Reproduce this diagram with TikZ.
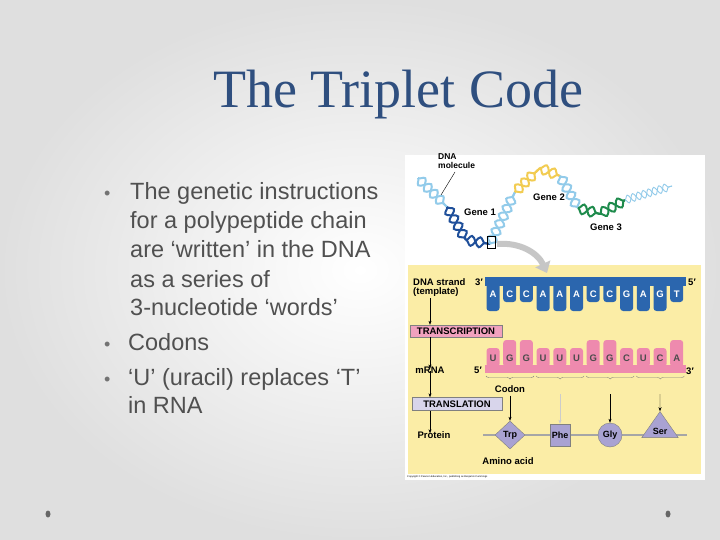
\documentclass[tikz,border=0pt]{standalone}
\usepackage{fontspec}
\setmainfont{Liberation Serif}
\newfontfamily\arialf{Liberation Sans}
\usetikzlibrary{shapes.geometric,decorations.pathmorphing,decorations.pathreplacing,arrows.meta}
\definecolor{titleblue}{HTML}{2F4F7F}
\definecolor{bodygray}{HTML}{505050}
\definecolor{panel}{HTML}{FBEDA6}
\definecolor{dnablue}{HTML}{2B66AE}
\definecolor{dnalight}{HTML}{92CBEA}
\definecolor{dnadark}{HTML}{1F4F9A}
\definecolor{geneyellow}{HTML}{F2CC52}
\definecolor{genegreen}{HTML}{1E8B4C}
\definecolor{rnapink}{HTML}{EE8AAE}
\definecolor{amino}{HTML}{A9A2D2}
\tikzset{
  bul/.style={anchor=base west, font=\arialf\fontsize{23.5}{23.5}\selectfont, text=bodygray, inner sep=0pt},
  dot/.style={anchor=base west, font=\arialf\fontsize{18}{18}\selectfont, text=bodygray!80, inner sep=0pt},
  lbl/.style={font=\arialf\fontsize{9.5}{9.5}\selectfont\bfseries, inner sep=0pt},
  helix/.style={draw=#1, line width=2pt, decorate, decoration={snake, amplitude=5pt, segment length=17pt}},
  helixm/.style={helix=#1, decoration={mirror}},
  aa/.style={fill=amino, draw=gray, font=\arialf\fontsize{9}{9}\selectfont\bfseries, inner sep=1pt},
}
\newcommand\strand[3]{\draw[helix=#1] #2 -- #3; \draw[helixm=#1] #2 -- #3;}
\begin{document}
\begin{tikzpicture}[x=1pt,y=-1pt]
\useasboundingbox (0,0) rectangle (720,540);
\shade[inner color=white, outer color=gray!25] (0,0) rectangle (720,540);
% title and bullets
\node (title) at (398,95) {\fontsize{54}{54}\selectfont\color{titleblue}The Triplet Code};
\node[dot] (d1) at (104,200) {\textbullet};
\node[bul] (b1) at (130,200) {The genetic instructions};
\node[bul] (b1a) at (130,229) {for a polypeptide chain};
\node[bul] (b1b) at (130,258) {are ‘written’ in the DNA};
\node[bul] (b1c) at (130,287) {as a series of};
\node[bul] (b1d) at (130,315) {3-nucleotide ‘words’};
\node[dot] (d2) at (104,350) {\textbullet};
\node[bul] (b2) at (128,350) {Codons};
\node[dot] (d3) at (104,385) {\textbullet};
\node[bul] (b3) at (128,385) {‘U’ (uracil) replaces ‘T’};
\node[bul] (b3a) at (128,413) {in RNA};
% corner dots
\fill[gray!80!black] (48,514) ellipse (2.5 and 3.5);
\fill[gray!80!black] (668,514) ellipse (2.5 and 3.5);
% figure
\fill[white] (405,155) rectangle (705,480);
\fill[panel] (408,265) rectangle (701,474);
\node[font=\arialf\fontsize{2.5}{2.5}\selectfont, anchor=west, inner sep=0pt] (copy) at (407,477) {Copyright \textcopyright\ Pearson Education, Inc., publishing as Benjamin Cummings};
% DNA molecule
\strand{dnalight}{(418,178)}{(447,207)}
\strand{dnadark}{(447,207)}{(466,240)}
\strand{dnadark}{(466,240)}{(490,244)}
\strand{dnalight}{(490,244)}{(515,192)}
\strand{geneyellow}{(515,192)}{(540,168)}
\strand{geneyellow}{(540,168)}{(560,176)}
\strand{dnalight}{(560,176)}{(578,208)}
\strand{genegreen}{(578,208)}{(600,214)}
\strand{genegreen}{(600,214)}{(625,200)}
\draw[helix=dnalight, line width=0.9pt, decoration={amplitude=4pt, segment length=11pt}] (625,200) -- (672,186);
\draw[helixm=dnalight, line width=0.9pt, decoration={amplitude=4pt, segment length=11pt}] (625,200) -- (672,186);
\draw[black, line width=0.5pt] (487,236) rectangle (495,248);
\node[lbl, align=left, anchor=north west, font=\arialf\fontsize{8.5}{9}\selectfont\bfseries] (mol) at (438,153) {DNA\\molecule};
\coordinate (molend) at (441,195);
\draw[thin] (455,172) -- (molend);
\node[lbl] (g1) at (480,212) {Gene 1};
\node[lbl] (g2) at (549,197) {Gene 2};
\node[lbl] (g3) at (606,227) {Gene 3};
\coordinate (zs) at (497,244);
\coordinate (ze) at (547,273);
\draw[gray!45, line width=6pt, -{Triangle[width=16pt,length=10pt]}] (zs) to[bend left=35] (ze);
% DNA template
\node[lbl, align=left, anchor=north west] (tmpl) at (413,278) {DNA strand\\(template)};
\node[lbl] (t3) at (479,282) {3′};
\node[lbl] (t5) at (692,282) {5′};
\foreach \l/\h [count=\i] in {A/1,C/0,C/0,A/1,A/1,A/1,C/0,C/0,G/1,A/1,G/1,T/0}{
  \pgfmathsetmacro\cx{493+16.7*(\i-1)}
  \pgfmathsetmacro\by{\h>0 ? 311 : 302}
  \fill[dnablue, rounded corners=3pt] (\cx-6.5,283) rectangle (\cx+6.5,\by);
  \node[text=white, lbl] (d\i) at (\cx,294) {\l};
}
\fill[dnablue] (485,277) rectangle (686,286);
% mRNA
\foreach \l/\h [count=\i] in {U/0,G/1,G/1,U/0,U/0,U/0,G/1,G/1,C/0,U/0,C/0,A/1}{
  \pgfmathsetmacro\cx{493+16.7*(\i-1)}
  \pgfmathsetmacro\ty{\h>0 ? 340 : 348}
  \fill[rnapink, rounded corners=3pt] (\cx-6.5,\ty) rectangle (\cx+6.5,367);
  \node[lbl, text=black!70] (r\i) at (\cx,358) {\l};
}
\fill[rnapink] (485,365) rectangle (686,373);
\node[lbl] (m5) at (478,370) {5′};
\node[lbl] (m3) at (690,371) {3′};
\foreach \i in {0,1,2,3}{
  \pgfmathsetmacro\bx{486+50.1*\i}
  \draw[decorate, decoration={brace, mirror, amplitude=3pt}, gray] (\bx,376) -- (\bx+48,376);
}
\node[lbl] (codon) at (510,389) {Codon};
% left process column
\node[lbl, fill=rnapink!80, draw=gray, minimum width=92pt, minimum height=12pt] (trs) at (456,331) {TRANSCRIPTION};
\node[lbl] (mrna) at (430,370) {mRNA};
\node[lbl, fill=amino!45, draw=gray, minimum width=90pt, minimum height=13pt] (trl) at (457,404) {TRANSLATION};
\node[lbl] (prot) at (434,435) {Protein};
\coordinate (a0) at (430,298);
\draw[-{Stealth[length=4pt]}] (a0) -- (trs.north -| a0);
\draw[-{Stealth[length=4pt]}] (trs.south -| a0) -- ([yshift=-2pt]mrna.north -| a0);
\draw[-{Stealth[length=4pt]}] ([yshift=2pt]mrna.south -| a0) -- (trl.north -| a0);
\draw[-{Stealth[length=4pt]}] (trl.south -| a0) -- ([yshift=-2pt]prot.north -| a0);
% protein
\coordinate (pl) at (483,435);
\coordinate (pr) at (687,435);
\draw[gray!70, line width=1.2pt] (pl) -- (pr);
\node[aa, diamond, minimum width=30pt, minimum height=28pt] (trp) at (510,435) {Trp};
\node[aa, rectangle, minimum width=20pt, minimum height=22pt] (phe) at (560,435) {Phe};
\node[aa, circle, minimum size=24pt] (gly) at (610,435) {Gly};
\node[aa, isosceles triangle, shape border rotate=90, isosceles triangle apex angle=70, minimum height=26pt, inner sep=0pt] (ser) at (660,431) {\raisebox{-5pt}{Ser}};
\node[lbl] (aacid) at (508,461) {Amino acid};
\draw[-{Stealth[length=4pt]}] (codon.south) ++(0,3) -- (trp.north);
\coordinate (c2) at (560,394);
\coordinate (c3) at (610,394);
\coordinate (c4) at (660,394);
\draw[-{Stealth[length=4pt]}, draw=gray!40, fill=gray!40] (c2) -- (phe.north);
\draw[-{Stealth[length=4pt]}] (c3) -- (gly.north);
\draw[-{Stealth[length=4pt]}] (c4) -- (ser.north);
\end{tikzpicture}
\end{document}
